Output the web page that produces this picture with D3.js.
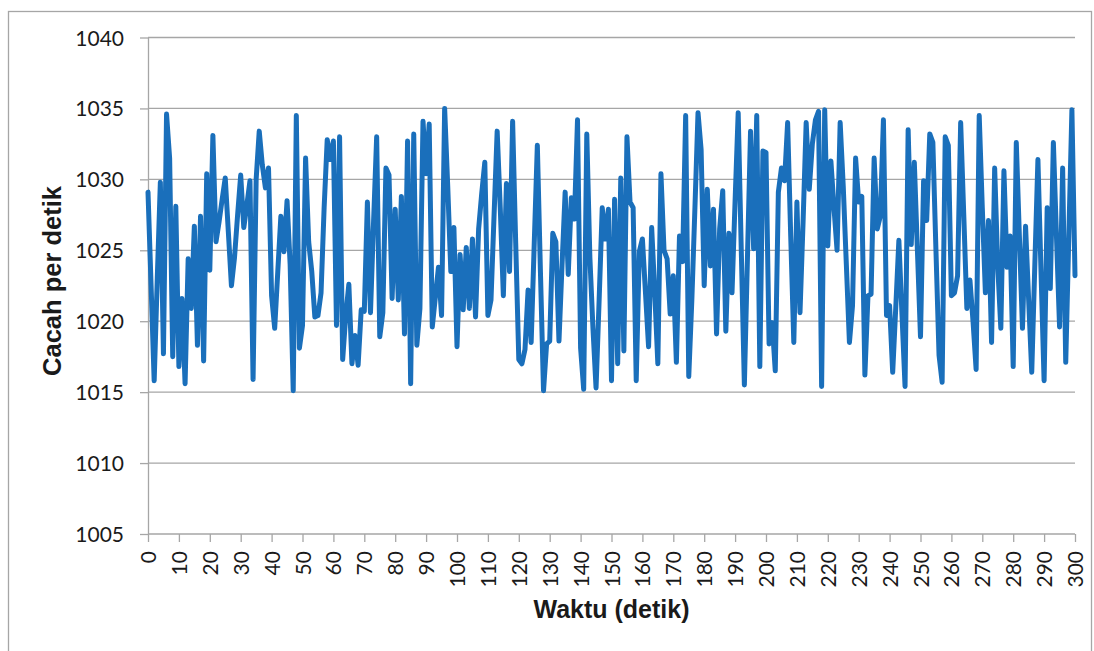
<!DOCTYPE html>
<html>
<head>
<meta charset="utf-8">
<script src="https://cdn.jsdelivr.net/npm/d3@7"></script>
<style>
  body { margin: 0; background: #fff; }
  svg { display: block; }
  .tick text { font-family: Lato, "Open Sans", sans-serif; fill: #1a1a1a; }
  .title { font-family: "Liberation Sans", Arial, sans-serif; font-weight: bold; fill: #1a1a1a; }
</style>
</head>
<body>
<svg id="chart" width="1094" height="651"></svg>
<script>
// cacah per detik, one value per second (0..300)
var counts = [
  1029.1, 1022.5, 1015.8, 1023.0, 1029.8, 1017.7, 1034.6, 1031.5, 1017.5, 1028.1,
  1016.8, 1021.6, 1015.6, 1024.4, 1020.9, 1026.7, 1018.3, 1027.4, 1017.2, 1030.4,
  1023.6, 1033.1, 1025.6, 1027.0, 1028.6, 1030.1, 1026.3, 1022.5, 1024.5, 1027.5,
  1030.3, 1026.6, 1028.2, 1029.9, 1015.9, 1030.0, 1033.4, 1031.0, 1029.4, 1030.8,
  1021.8, 1019.5, 1023.5, 1027.4, 1024.9, 1028.5, 1024.0, 1015.1, 1034.5, 1018.1,
  1019.7, 1031.5, 1025.6, 1023.5, 1020.3, 1020.4, 1022.0, 1028.0, 1032.8, 1031.4,
  1032.7, 1019.7, 1033.0, 1017.3, 1020.4, 1022.6, 1017.0, 1019.0, 1016.9, 1020.8,
  1020.7, 1028.4, 1020.6, 1027.0, 1033.0, 1018.9, 1020.6, 1030.8, 1030.3, 1021.6,
  1027.9, 1021.5, 1028.8, 1019.1, 1032.7, 1015.6, 1033.2, 1018.3, 1020.9, 1034.1,
  1030.4, 1033.9, 1019.6, 1021.7, 1023.8, 1020.4, 1035.0, 1029.5, 1023.5, 1026.6,
  1018.2, 1024.7, 1020.8, 1025.2, 1020.9, 1025.8, 1020.3, 1026.5, 1029.0, 1031.2,
  1020.4, 1021.5, 1027.5, 1033.4, 1028.0, 1021.8, 1029.7, 1023.5, 1034.1, 1025.5,
  1017.3, 1017.0, 1018.0, 1022.2, 1018.5, 1025.5, 1032.4, 1023.5, 1015.1, 1018.4,
  1018.6, 1026.2, 1025.6, 1018.6, 1024.0, 1029.1, 1023.3, 1028.7, 1027.2, 1034.2,
  1018.1, 1015.2, 1033.2, 1024.5, 1019.5, 1015.3, 1021.5, 1028.0, 1025.8, 1027.9,
  1015.8, 1028.6, 1017.0, 1030.1, 1017.9, 1033.0, 1028.4, 1028.0, 1015.8, 1024.9,
  1025.8, 1022.0, 1018.2, 1026.6, 1022.0, 1017.0, 1030.4, 1025.0, 1024.4, 1020.5,
  1023.2, 1017.1, 1026.0, 1024.2, 1034.5, 1016.1, 1021.5, 1028.0, 1034.7, 1032.1,
  1022.5, 1029.3, 1023.9, 1027.9, 1019.1, 1026.5, 1029.2, 1019.3, 1026.2, 1022.0,
  1028.5, 1034.7, 1025.0, 1015.5, 1024.5, 1033.4, 1025.1, 1034.5, 1016.8, 1032.0,
  1031.9, 1018.4, 1019.9, 1016.5, 1029.1, 1030.8, 1029.9, 1034.0, 1026.0, 1018.5,
  1028.4, 1020.6, 1027.0, 1034.0, 1029.3, 1032.5, 1034.2, 1034.8, 1015.4, 1034.9,
  1025.3, 1031.3, 1028.0, 1025.0, 1034.0, 1029.5, 1024.0, 1018.5, 1021.1, 1031.5,
  1028.4, 1028.8, 1016.2, 1021.8, 1021.9, 1031.5, 1026.5, 1027.4, 1034.2, 1020.4,
  1021.1, 1016.4, 1021.0, 1025.7, 1020.5, 1015.4, 1033.5, 1025.4, 1031.2, 1025.0,
  1018.9, 1029.9, 1027.1, 1033.2, 1032.6, 1025.0, 1017.6, 1015.7, 1033.0, 1032.4,
  1021.8, 1022.0, 1023.2, 1034.0, 1027.5, 1020.9, 1022.9, 1020.0, 1016.6, 1034.5,
  1028.0, 1022.0, 1027.1, 1018.5, 1030.8, 1023.9, 1019.5, 1030.6, 1023.8, 1026.0,
  1016.8, 1032.6, 1026.0, 1019.5, 1026.7, 1021.5, 1016.4, 1024.0, 1031.4, 1023.5,
  1015.8, 1028.0, 1022.3, 1032.6, 1026.0, 1019.6, 1030.8, 1017.1, 1026.0, 1034.9,
  1023.2
];
var xTicks = [0, 10, 20, 30, 40, 50, 60, 70, 80, 90, 100, 110, 120, 130, 140, 150,
              160, 170, 180, 190, 200, 210, 220, 230, 240, 250, 260, 270, 280, 290, 300];
var yTicks = [1005, 1010, 1015, 1020, 1025, 1030, 1035, 1040];
var xTitle = 'Waktu (detik)';
var yTitle = 'Cacah per detik';

(function(){
    var svg = d3.select('#chart');
    var plotLeft = 148, plotRight = 1075, plotTop = 37.5, plotBottom = 534;

    var x = d3.scaleLinear().domain([0, 300]).range([plotLeft, plotRight]);
    var y = d3.scaleLinear().domain([1005, 1040]).range([plotBottom, plotTop]);

    // outer frame
    svg.append('rect')
        .attr('x', 8.5).attr('y', 11.5)
        .attr('width', 1083).attr('height', 700)
        .attr('fill', 'none')
        .attr('stroke', '#a6a6a6')
        .attr('stroke-width', 1.3);

    // horizontal grid
    svg.append('g')
        .selectAll('line')
        .data(yTicks)
        .enter()
        .append('line')
            .attr('x1', plotLeft).attr('x2', plotRight)
            .attr('y1', function(d){ return y(d); })
            .attr('y2', function(d){ return y(d); })
            .attr('stroke', '#a6a6a6')
            .attr('stroke-width', 1.3);

    // y axis
    var yAxis = svg.append('g')
        .attr('transform', 'translate(' + plotLeft + ',0)')
        .call(d3.axisLeft(y).tickValues(yTicks).tickSize(8).tickSizeOuter(0).tickPadding(16)
            .tickFormat(d3.format('d')));
    yAxis.selectAll('path, line').attr('stroke', '#a6a6a6').attr('stroke-width', 1.3);
    yAxis.selectAll('text').attr('font-size', 21).attr('dy', '0.36em');

    // x axis
    var xAxis = svg.append('g')
        .attr('transform', 'translate(0,' + plotBottom + ')')
        .call(d3.axisBottom(x).tickValues(xTicks).tickSize(8).tickSizeOuter(0)
            .tickFormat(d3.format('d')));
    xAxis.select('.domain').remove();
    xAxis.selectAll('line').attr('stroke', '#a6a6a6').attr('stroke-width', 1.3);
    xAxis.selectAll('text')
        .attr('font-size', 21)
        .attr('text-anchor', 'end')
        .attr('transform', 'rotate(-90)')
        .attr('x', -17)
        .attr('y', 0)
        .attr('dy', '0.36em');

    // series line
    var line = d3.line()
        .x(function(d, i){ return x(i); })
        .y(function(d){ return y(d); });

    svg.append('path')
        .datum(counts)
        .attr('d', line)
        .attr('fill', 'none')
        .attr('stroke', '#1a6fbb')
        .attr('stroke-width', 5)
        .attr('stroke-linejoin', 'round')
        .attr('stroke-linecap', 'round');

    // titles
    svg.append('text')
        .attr('class', 'title')
        .attr('x', (plotLeft + plotRight) / 2)
        .attr('y', 618)
        .attr('text-anchor', 'middle')
        .attr('font-size', 25)
        .text(xTitle);

    svg.append('text')
        .attr('class', 'title')
        .attr('transform', 'translate(61,281) rotate(-90)')
        .attr('text-anchor', 'middle')
        .attr('font-size', 25.5)
        .text(yTitle);
})();
</script>
</body>
</html>
